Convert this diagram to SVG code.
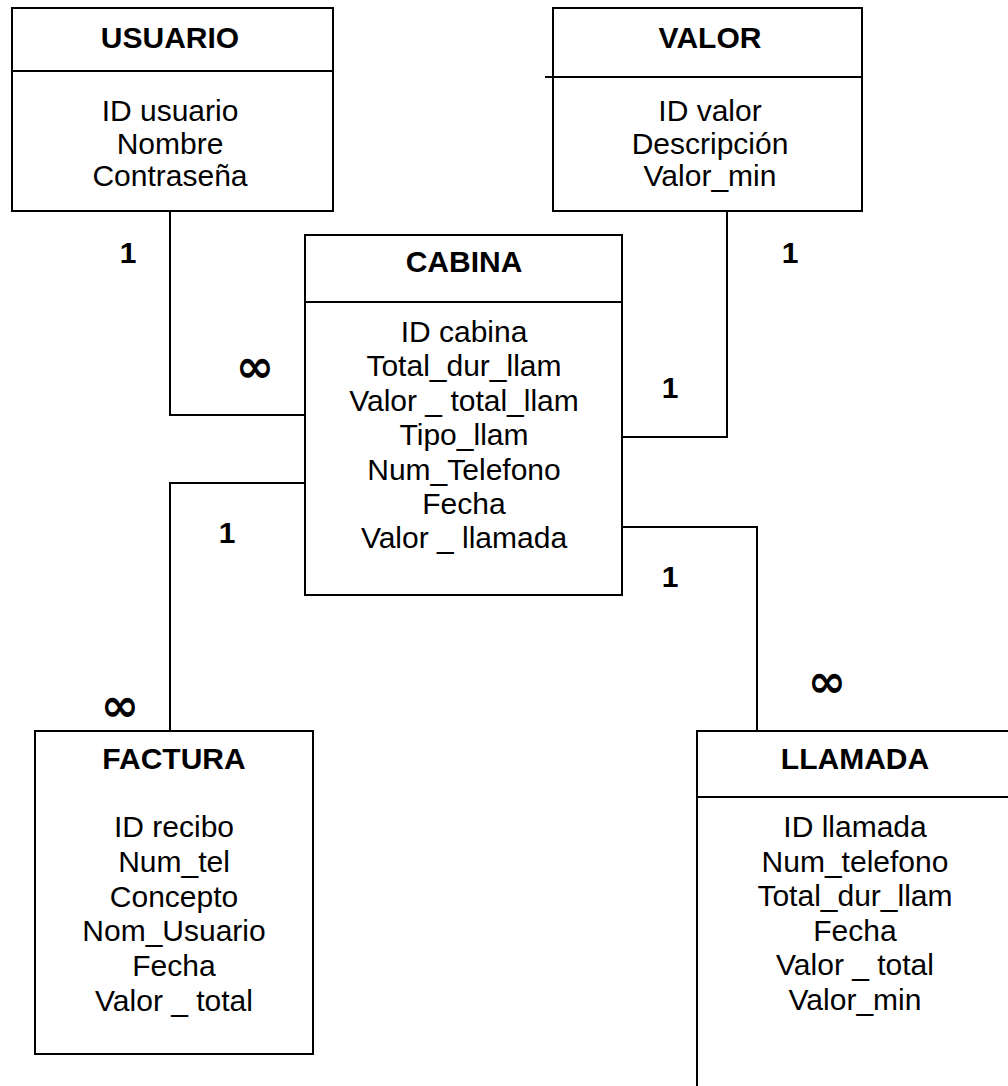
<svg xmlns="http://www.w3.org/2000/svg" width="1008" height="1086" viewBox="0 0 1008 1086">
<style>
.box{fill:#fff;stroke:#000;stroke-width:2}
.div{stroke:#000;stroke-width:2;fill:none}
.con{stroke:#000;stroke-width:2;fill:none}
.t{font-family:"Liberation Sans",Arial,sans-serif;font-size:30px;font-weight:bold;text-anchor:middle;fill:#000}
.a{font-family:"Liberation Sans",Arial,sans-serif;font-size:30px;text-anchor:middle;fill:#000}
.m{font-family:"Liberation Sans",Arial,sans-serif;font-size:30px;font-weight:bold;text-anchor:middle;fill:#000}
.inf{font-family:"DejaVu Sans",sans-serif;font-size:46px;font-weight:bold;text-anchor:middle;fill:#000}
</style>
<rect width="1008" height="1086" fill="#fff"/>
<g id="connectors">
<path class="con" d="M170 211 V415 H305"/>
<path class="con" d="M727 211 V437 H622"/>
<path class="con" d="M305 483 H170 V731"/>
<path class="con" d="M622 527 H757 V731"/>
</g>
<g id="usuario">
<rect class="box" x="12" y="8" width="321" height="203"/>
<line class="div" x1="12" y1="71" x2="333" y2="71"/>
<text class="t" x="170" y="48">USUARIO</text>
<text class="a" x="170" y="121">ID usuario</text>
<text class="a" x="170" y="154">Nombre</text>
<text class="a" x="170" y="186">Contraseña</text>
</g>
<g id="valor">
<rect class="box" x="553" y="8" width="309" height="203"/>
<line class="div" x1="545" y1="77" x2="863" y2="77"/>
<text class="t" x="710" y="48">VALOR</text>
<text class="a" x="710" y="121">ID valor</text>
<text class="a" x="710" y="154">Descripción</text>
<text class="a" x="710" y="186">Valor_min</text>
</g>
<g id="cabina">
<rect class="box" x="305" y="235" width="317" height="360"/>
<line class="div" x1="305" y1="302" x2="622" y2="302"/>
<text class="t" x="464" y="272">CABINA</text>
<text class="a" x="464" y="342">ID cabina</text>
<text class="a" x="464" y="376.4">Total_dur_llam</text>
<text class="a" x="464" y="410.8">Valor _ total_llam</text>
<text class="a" x="464" y="445.2">Tipo_llam</text>
<text class="a" x="464" y="479.6">Num_Telefono</text>
<text class="a" x="464" y="514">Fecha</text>
<text class="a" x="464" y="548.4">Valor _ llamada</text>
</g>
<g id="factura">
<rect class="box" x="35" y="731" width="278" height="323"/>
<text class="t" x="174" y="769">FACTURA</text>
<text class="a" x="174" y="837">ID recibo</text>
<text class="a" x="174" y="871.8">Num_tel</text>
<text class="a" x="174" y="906.6">Concepto</text>
<text class="a" x="174" y="941.4">Nom_Usuario</text>
<text class="a" x="174" y="976.2">Fecha</text>
<text class="a" x="174" y="1011">Valor _ total</text>
</g>
<g id="llamada">
<rect class="box" x="697" y="731" width="330" height="380"/>
<line class="div" x1="697" y1="797" x2="1010" y2="797"/>
<text class="t" x="855" y="769">LLAMADA</text>
<text class="a" x="855" y="837">ID llamada</text>
<text class="a" x="855" y="871.6">Num_telefono</text>
<text class="a" x="855" y="906.2">Total_dur_llam</text>
<text class="a" x="855" y="940.8">Fecha</text>
<text class="a" x="855" y="975.4">Valor _ total</text>
<text class="a" x="855" y="1010">Valor_min</text>
</g>
<g id="labels">
<text class="m" x="128" y="263">1</text>
<text class="m" x="790" y="263">1</text>
<text class="m" x="670" y="398">1</text>
<text class="m" x="227" y="543">1</text>
<text class="m" x="670" y="587">1</text>
<text class="inf" x="255" y="382">∞</text>
<text class="inf" x="120" y="721">∞</text>
<text class="inf" x="827" y="697">∞</text>
</g>
</svg>
